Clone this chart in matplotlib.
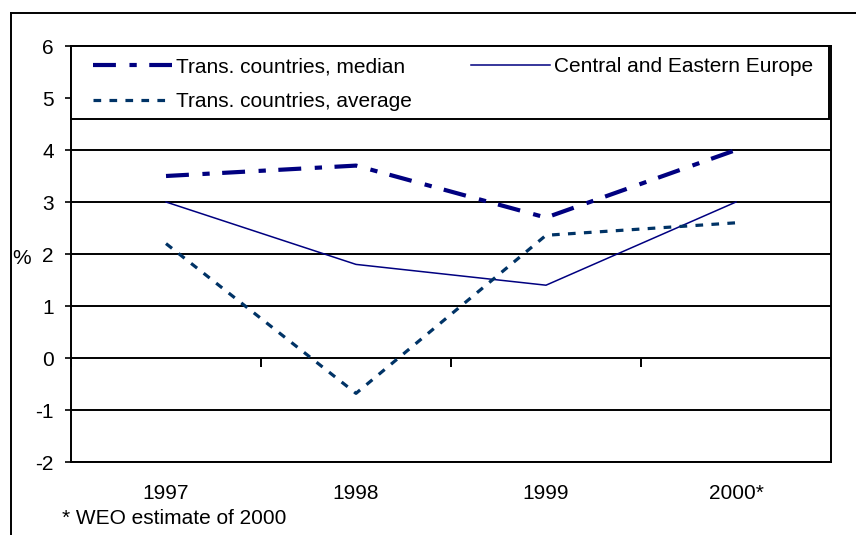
import matplotlib
matplotlib.use("Agg")
import matplotlib.pyplot as plt
from matplotlib.patches import Rectangle
from matplotlib.lines import Line2D

plt.rcParams['font.family'] = ['Liberation Sans', 'DejaVu Sans']

years = ["1997", "1998", "1999", "2000*"]
median = [3.5, 3.7, 2.7, 4.0]
cee = [3.0, 1.8, 1.4, 3.0]
average = [2.2, -0.68, 2.36, 2.6]
yticks = [-2, -1, 0, 1, 2, 3, 4, 5, 6]

FS = 15
fig = plt.figure(figsize=(8.56, 5.35), dpi=100)
W, H = 856, 535
ax = fig.add_axes([71 / W, 1 - 462 / H, 760 / W, 416 / H])

x = list(range(len(years)))
ax.set_xlim(-0.5, len(years) - 0.5)
ax.set_ylim(-2, 6)

# grid lines
for v in yticks:
    if v < 5:
        ax.axhline(v, color='black', lw=1.4, zorder=1)

MED_DASH = (5.5, 3.25, 1.75, 3.0)
AVG_DASH = (2.4, 2.6)
ax.plot(x, cee, color='#000080', lw=1.1, zorder=3, label='Central and Eastern Europe')
ax.plot(x, average, color='#003366', lw=2.3, dashes=AVG_DASH, zorder=3,
        label='Trans. countries, average')
ax.plot(x, median, color='#000080', lw=3.0, dashes=MED_DASH, zorder=4,
        label='Trans. countries, median')

# category boundary ticks on the zero line
bounds = [i - 0.5 for i in range(len(years) + 1)]
ax.vlines(bounds, -0.17, 0, color='black', lw=1.4, zorder=2)

# spines
for s in ['left', 'right', 'bottom', 'top']:
    ax.spines[s].set_linewidth(1.4)
    ax.spines[s].set_color('black')

ax.set_yticks(yticks)
ax.set_yticklabels([str(v) for v in yticks], fontsize=FS)
ax.tick_params(axis='y', direction='out', length=4.5, width=1.2, pad=8)
ax.set_xticks(x)
ax.set_xticklabels(years, fontsize=FS)
ax.tick_params(axis='x', length=0, pad=16)

# legend box
ax.add_patch(Rectangle((0, (462 - 119) / 416), 758 / 760, 1 - (462 - 119) / 416,
                       transform=ax.transAxes, facecolor='white', edgecolor='black',
                       lw=1.4, zorder=5, clip_on=False))
hmed = Line2D([], [], color='#000080', lw=3.0, dashes=MED_DASH)
havg = Line2D([], [], color='#003366', lw=2.3, dashes=AVG_DASH)
hcee = Line2D([], [], color='#000080', lw=1.1)
leg = ax.legend([hmed, havg, hcee],
                ['Trans. countries, median', 'Trans. countries, average',
                 'Central and Eastern Europe'],
                ncol=2, loc='upper left', bbox_to_anchor=((93 - 71) / 760, (462 - 57.5) / 416),
                frameon=False, fontsize=FS, handlelength=3.8, handletextpad=0.2,
                columnspacing=2.8, labelspacing=0.74, borderpad=0, borderaxespad=0)
leg.set_zorder(6)

fig.text(22 / W, 1 - 258 / H, '%', fontsize=FS, ha='center', va='center')
fig.text(62 / W, 1 - 518 / H, '* WEO estimate of 2000', fontsize=FS, ha='left', va='center')

# outer frame
fig.add_artist(Line2D([11 / W, 11 / W], [1 - 13 / H, 0], transform=fig.transFigure,
                      color='black', lw=1.4))
fig.add_artist(Line2D([11 / W, 1], [1 - 13 / H, 1 - 13 / H], transform=fig.transFigure,
                      color='black', lw=1.4))

fig.savefig('out.png', dpi=100)
